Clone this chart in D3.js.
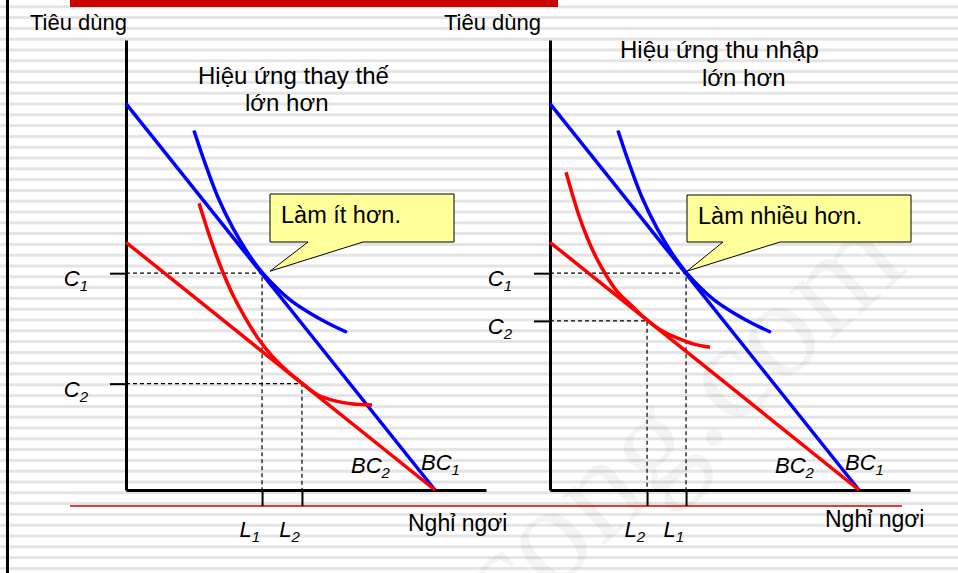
<!DOCTYPE html>
<html>
<head>
<meta charset="utf-8">
<script src="https://cdn.jsdelivr.net/npm/d3@7"></script>
<style>
  body { margin: 0; background: #fff; }
  svg { display: block; font-family: "Liberation Sans", Arial, sans-serif; }
</style>
</head>
<body>
<svg width="958" height="573"></svg>
<script>
// budget lines: [leisure, consumption]
var budget1 = [[0, 85], [20.6, 0]];     // BC1
var budget2 = [[0, 54.5], [20.6, 0]];   // BC2

// indifference curves
var icHigh = [[4.53, 79.1], [5.27, 71.9], [6.13, 64.4], [7.13, 57.6], [8.13, 52.1], [9.07, 47.9],
              [10.07, 44.4], [11.07, 41.5], [12.27, 38.9], [13.47, 36.7], [14.73, 34.7]];
var icLowSub = [[4.87, 63.1], [5.27, 58.9], [5.73, 54.3], [6.4, 48.4], [7.13, 42.9], [7.93, 38.0],
                [8.8, 33.4], [9.73, 29.5], [10.73, 26.2], [11.73, 23.5], [12.8, 20.9], [13.93, 19.6],
                [15.13, 18.9], [16.4, 18.7]];
var icLowInc = [[1.07, 69.9], [1.47, 65.3], [1.93, 60.4], [2.47, 55.6], [3.07, 51.2], [3.73, 47.3],
                [4.47, 43.7], [5.4, 40.7], [6.47, 37.4], [7.53, 34.9], [8.53, 33.4], [9.6, 32.1],
                [10.67, 31.4]];

// chosen points L1/L2 and C1/C2
var leftLeisure = [9.07, 11.73];
var leftCons = [47.7, 23.4];
var rightLeisure = [9.07, 6.47];
var rightCons = [47.7, 37.2];
var pointNames = ["1", "2"];

var leftTitle = ["Hiệu ứng thay thế", "lớn hơn"];
var rightTitle = ["Hiệu ứng thu nhập", "lớn hơn"];
var calloutText = ["Làm ít hơn.", "Làm nhiều hơn."];
var yLabel = "Tiêu dùng";
var xLabel = "Nghỉ ngơi";

var svg = d3.select("svg");

// slide background: grey stripes
svg.selectAll("rect.stripe")
   .data(d3.range(0, 54))
   .enter().append("rect")
     .attr("x", 0)
     .attr("y", function(d) { return 5.3 + d * 10.8; })
     .attr("width", 958)
     .attr("height", 3)
     .attr("fill", "#e4e4e4");

// watermark
svg.append("text")
   .attr("transform", "translate(503,636) rotate(-42)")
   .style("font-family", "'Liberation Serif', serif")
   .style("font-size", "140px")
   .attr("fill", "#000")
   .attr("fill-opacity", 0.045)
   .text("cong.com");

svg.append("rect").attr("x", 70).attr("y", 0).attr("width", 488).attr("height", 7).attr("fill", "#cc0000");
svg.append("rect").attr("x", 6).attr("y", 0).attr("width", 3).attr("height", 573).attr("fill", "#000");
svg.append("line").attr("x1", 70).attr("x2", 902).attr("y1", 506).attr("y2", 506)
   .attr("stroke", "#cc0000").attr("stroke-width", 1.3);

var x = d3.scaleLinear().domain([0, 24]).range([0, 360]);
var y = d3.scaleLinear().domain([0, 99]).range([450, 0]);

var line = d3.line()
    .x(function(d) { return x(d[0]); })
    .y(function(d) { return y(d[1]); });
var curve = d3.line()
    .x(function(d) { return x(d[0]); })
    .y(function(d) { return y(d[1]); })
    .curve(d3.curveCatmullRom);

var panels = [
  { ox: 126, leisure: leftLeisure, cons: leftCons, ic: icLowSub, title: leftTitle,
    titleX: [72, 119], titleY: [-406, -379], yLabX: -96, yLabY: -460, xLabX: 282, xLabY: 41,
    box: [144, -296, 184, 48], pointer: [182, 237, 8], call: calloutText[0] },
  { ox: 550, leisure: rightLeisure, cons: rightCons, ic: icLowInc, title: rightTitle,
    titleX: [70, 152], titleY: [-432, -404], yLabX: -106, yLabY: -460, xLabX: 275, xLabY: 37,
    box: [137, -295, 224, 47], pointer: [173, 230, 1], call: calloutText[1] }
];

panels.forEach(function(p) {
  var g = svg.append("g").attr("transform", "translate(" + p.ox + ",40)");

  // dashed guides
  p.leisure.forEach(function(l, i) {
    var c = p.cons[i];
    g.append("path")
     .attr("d", "M0," + y(c) + "H" + x(l) + "V450")
     .attr("fill", "none").attr("stroke", "#000").attr("stroke-width", 1.2)
     .attr("stroke-dasharray", "4,3");
  });

  // axes
  var yAxis = g.append("g")
     .call(d3.axisLeft(y).tickValues(p.cons).tickSize(16).tickSizeOuter(0).tickFormat(""));
  var xAxis = g.append("g").attr("transform", "translate(0,450)")
     .call(d3.axisBottom(x).tickValues(p.leisure).tickSize(16).tickSizeOuter(0).tickFormat(""));
  [yAxis, xAxis].forEach(function(a) {
    a.select(".domain").attr("stroke", "#000").attr("stroke-width", 3);
    a.selectAll(".tick line").attr("stroke", "#000").attr("stroke-width", 2);
  });

  // budget lines and indifference curves
  g.append("path").attr("d", line(budget1)).attr("fill", "none").attr("stroke", "#0000ff").attr("stroke-width", 3.5);
  g.append("path").attr("d", line(budget2)).attr("fill", "none").attr("stroke", "#ff0000").attr("stroke-width", 3.5);
  g.append("path").attr("d", curve(icHigh)).attr("fill", "none").attr("stroke", "#0000ff").attr("stroke-width", 3.5);
  g.append("path").attr("d", curve(p.ic)).attr("fill", "none").attr("stroke", "#ff0000").attr("stroke-width", 3.5);

  // callout
  var b = p.box, tipX = x(p.leisure[0]) + p.pointer[2], tipY = y(p.cons[0]) - 2;
  var bx = b[0], by = b[1] + 450, bw = b[2], bh = b[3];
  g.append("path")
   .attr("d", "M" + bx + "," + by + "H" + (bx + bw) + "V" + (by + bh) + "H" + p.pointer[1] +
              "L" + tipX + "," + tipY + "L" + p.pointer[0] + "," + (by + bh) + "H" + bx + "Z")
   .attr("fill", "#ffff99").attr("stroke", "#000").attr("stroke-width", 1);
  g.append("text").attr("x", bx + 11).attr("y", by + 29)
   .style("font-size", "23.5px").text(p.call);

  // titles
  p.title.forEach(function(t, i) {
    g.append("text").attr("x", p.titleX[i]).attr("y", 450 + p.titleY[i])
     .style("font-size", "24px").text(t);
  });
  g.append("text").attr("x", p.yLabX).attr("y", 450 + p.yLabY).style("font-size", "22px").text(yLabel);
  g.append("text").attr("x", p.xLabX).attr("y", 450 + p.xLabY).style("font-size", "23px").text(xLabel);

  // C and L labels
  function subLabel(px, py, main, sub, anchor) {
    var t = g.append("text").attr("x", px).attr("y", py).attr("text-anchor", anchor)
              .style("font-style", "italic").style("font-size", "22px");
    t.append("tspan").text(main);
    t.append("tspan").attr("dy", 5).style("font-size", "15px").text(sub);
  }
  p.cons.forEach(function(c, i) { subLabel(-38, y(c) + 13, "C", pointNames[i], "end"); });
  p.leisure.forEach(function(l, i) { subLabel(x(l) - 2, 497, "L", pointNames[i], "end"); });
  subLabel(x(budget2[1][0]) - 84, 433, "BC", "2", "start");
  subLabel(x(budget1[1][0]) - 14, 430, "BC", "1", "start");
});
</script>
</body>
</html>
